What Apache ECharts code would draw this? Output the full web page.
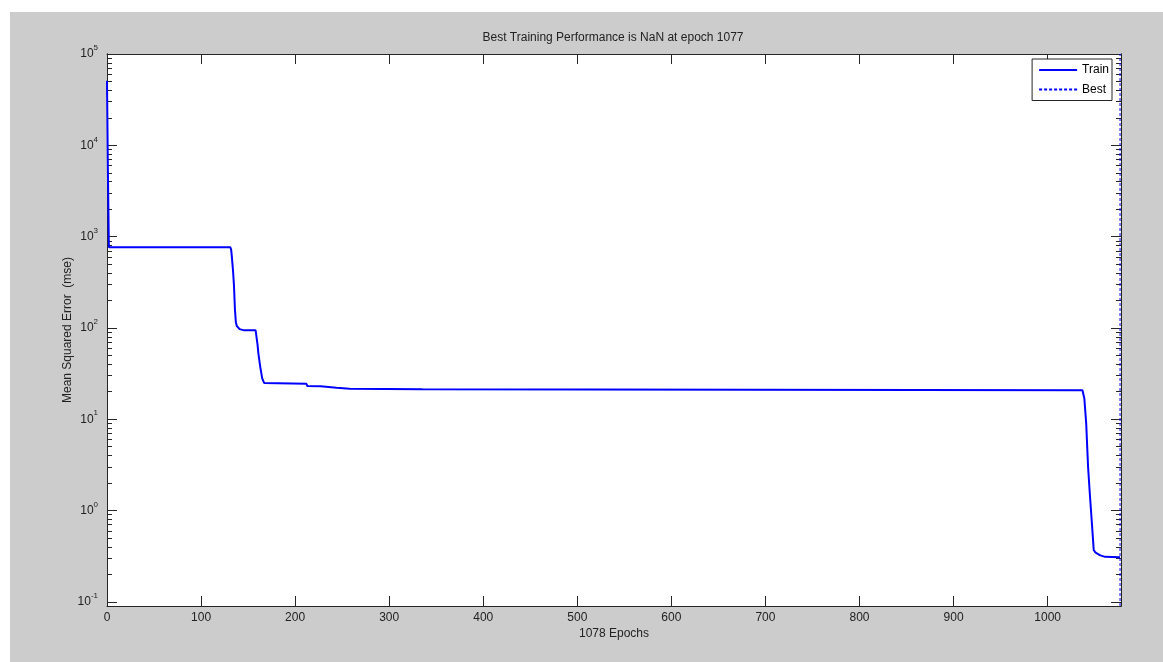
<!DOCTYPE html>
<html>
<head>
<meta charset="utf-8">
<script src="https://cdn.jsdelivr.net/npm/echarts@6/dist/echarts.min.js"></script>
<style>
  html, body { margin: 0; padding: 0; background: #ffffff; }
  #bg { position: absolute; left: 10px; top: 12px; width: 1153px; height: 650px; background: #cccccc; }
  #chart { position: absolute; left: 0; top: 0; width: 1163px; height: 662px; }
</style>
</head>
<body>
<div id="bg"></div>
<div id="chart"></div>
<script>
// ---- data ----
var titleText = 'Best Training Performance is NaN at epoch 1077';
var xName = '1078 Epochs';
var yName = 'Mean Squared Error  (mse)';
var seriesNames = ['Train', 'Best'];

var trainEpochs = [0, 1, 2, 131, 132, 133, 134, 135, 136, 137, 138, 139, 141, 146, 158, 159, 160, 161, 163, 165, 167, 168,
  212, 213, 227, 228, 244, 245, 258, 259, 335, 336, 1037, 1038, 1039, 1041, 1043, 1045, 1047, 1049, 1051, 1056, 1061, 1077];
var trainMSE = [51000, 4800, 766, 766, 720, 560, 420, 290, 160, 115, 105, 100, 97, 94, 94, 90, 66, 52, 37, 28, 25, 24.5,
  24.4, 23.1, 23.0, 22.2, 22.1, 21.7, 21.6, 21.4, 21.3, 21.0, 20.8, 20.8, 17, 9, 3.0, 1.45, 0.74, 0.37, 0.345, 0.323, 0.311, 0.308];

var bestEpochs = [1077, 1077];
var bestMSE = [0.09, 100000];

var xTicks = [0, 100, 200, 300, 400, 500, 600, 700, 800, 900, 1000];
var xMin = 0, xMax = 1078;
var yMin = 0.09, yMax = 100000;
var yDecadeExps = [-1, 0, 1, 2, 3, 4, 5];
var yMinorMult = [2, 3, 4, 5, 6, 7, 8, 9];

// ---- build ----
var L = Math.log10;
var lyMin = L(yMin), lyMax = L(yMax);
var majorY = yDecadeExps.slice();
var minorY = [];
yDecadeExps.concat([-2]).forEach(function (e) {
  yMinorMult.forEach(function (m) {
    var v = e + L(m);
    if (v > lyMin + 0.01 && v < lyMax - 0.01) minorY.push(v);
  });
});

function pairs(xs, ys) { return xs.map(function (x, i) { return [x, L(ys[i])]; }); }

var FONT = 'Liberation Sans, Arial, sans-serif';
var AX = '#262626';

function yAx(pos, ticks, len, labels) {
  return {
    type: 'value', position: pos, min: lyMin, max: lyMax, gridIndex: 0,
    axisLine: { show: true, onZero: false, lineStyle: { color: AX, width: 1 } },
    axisTick: { show: true, inside: true, length: len, customValues: ticks, lineStyle: { color: AX, width: 1 } },
    axisLabel: labels ? {
      show: true, customValues: majorY, margin: 9,
      formatter: function (v) { return '{b|10}{s|' + Math.round(v) + '}'; },
      rich: {
        b: { fontSize: 12, fontFamily: FONT, color: '#222' },
        s: { fontSize: 8, fontFamily: FONT, color: '#222', padding: [0, 0, 12, 0] }
      }
    } : { show: false },
    splitLine: { show: false },
    name: labels ? yName : '',
    nameLocation: 'middle', nameGap: 33, nameMoveOverlap: false,
    nameTextStyle: { fontSize: 12, fontFamily: FONT, color: '#222' }
  };
}

var chart = echarts.init(document.getElementById('chart'), null, { renderer: 'canvas' });
chart.setOption({
  animation: false,
  backgroundColor: 'transparent',
  grid: { left: 107, right: 42, top: 54, bottom: 56, show: true, backgroundColor: '#ffffff', borderWidth: 0 },
  graphic: [{
    type: 'text', x: 613, y: 38,
    style: { text: titleText, fontSize: 12, fontFamily: FONT, fill: '#222', align: 'center', verticalAlign: 'middle' }
  }],
  legend: {
    data: seriesNames, orient: 'vertical', right: 51, top: 59,
    itemWidth: 38, itemHeight: 14, itemGap: 7.5, padding: [5, 3, 5, 6],
    backgroundColor: '#ffffff', borderColor: AX, borderWidth: 1, borderRadius: 0,
    itemStyle: { opacity: 0 },
    textStyle: { fontSize: 12, fontFamily: FONT, color: '#000' }
  },
  xAxis: [{
    type: 'value', position: 'bottom', min: xMin, max: xMax,
    axisLine: { show: true, onZero: false, lineStyle: { color: AX } },
    axisTick: { show: true, inside: true, length: 10, customValues: xTicks, lineStyle: { color: AX } },
    axisLabel: { show: true, customValues: xTicks, margin: 6, fontSize: 12, fontFamily: FONT, color: '#222',
      formatter: function (v) { return String(v); } },
    splitLine: { show: false },
    name: xName, nameLocation: 'middle', nameGap: 22, nameMoveOverlap: false,
    nameTextStyle: { fontSize: 12, fontFamily: FONT, color: '#222' }
  }, {
    type: 'value', position: 'top', min: xMin, max: xMax,
    axisLine: { show: true, onZero: false, lineStyle: { color: AX } },
    axisTick: { show: true, inside: true, length: 10, customValues: xTicks, lineStyle: { color: AX } },
    axisLabel: { show: false },
    splitLine: { show: false }
  }],
  yAxis: [
    yAx('left', majorY, 10, true),
    yAx('left', minorY, 5, false),
    yAx('right', majorY, 10, false),
    yAx('right', minorY, 5, false)
  ],
  series: [{
    name: seriesNames[0], type: 'line', xAxisIndex: 0, yAxisIndex: 0,
    data: pairs(trainEpochs, trainMSE), symbol: 'none', showSymbol: false,
    lineStyle: { color: '#0000ff', width: 2 }, itemStyle: { color: '#0000ff' }, z: 3
  }, {
    name: seriesNames[1], type: 'line', xAxisIndex: 0, yAxisIndex: 0,
    data: pairs(bestEpochs, bestMSE), symbol: 'none', showSymbol: false,
    lineStyle: { color: '#0000ff', width: 1, type: [3, 2] }, itemStyle: { color: '#0000ff' }, z: 4
  }]
});
</script>
</body>
</html>
